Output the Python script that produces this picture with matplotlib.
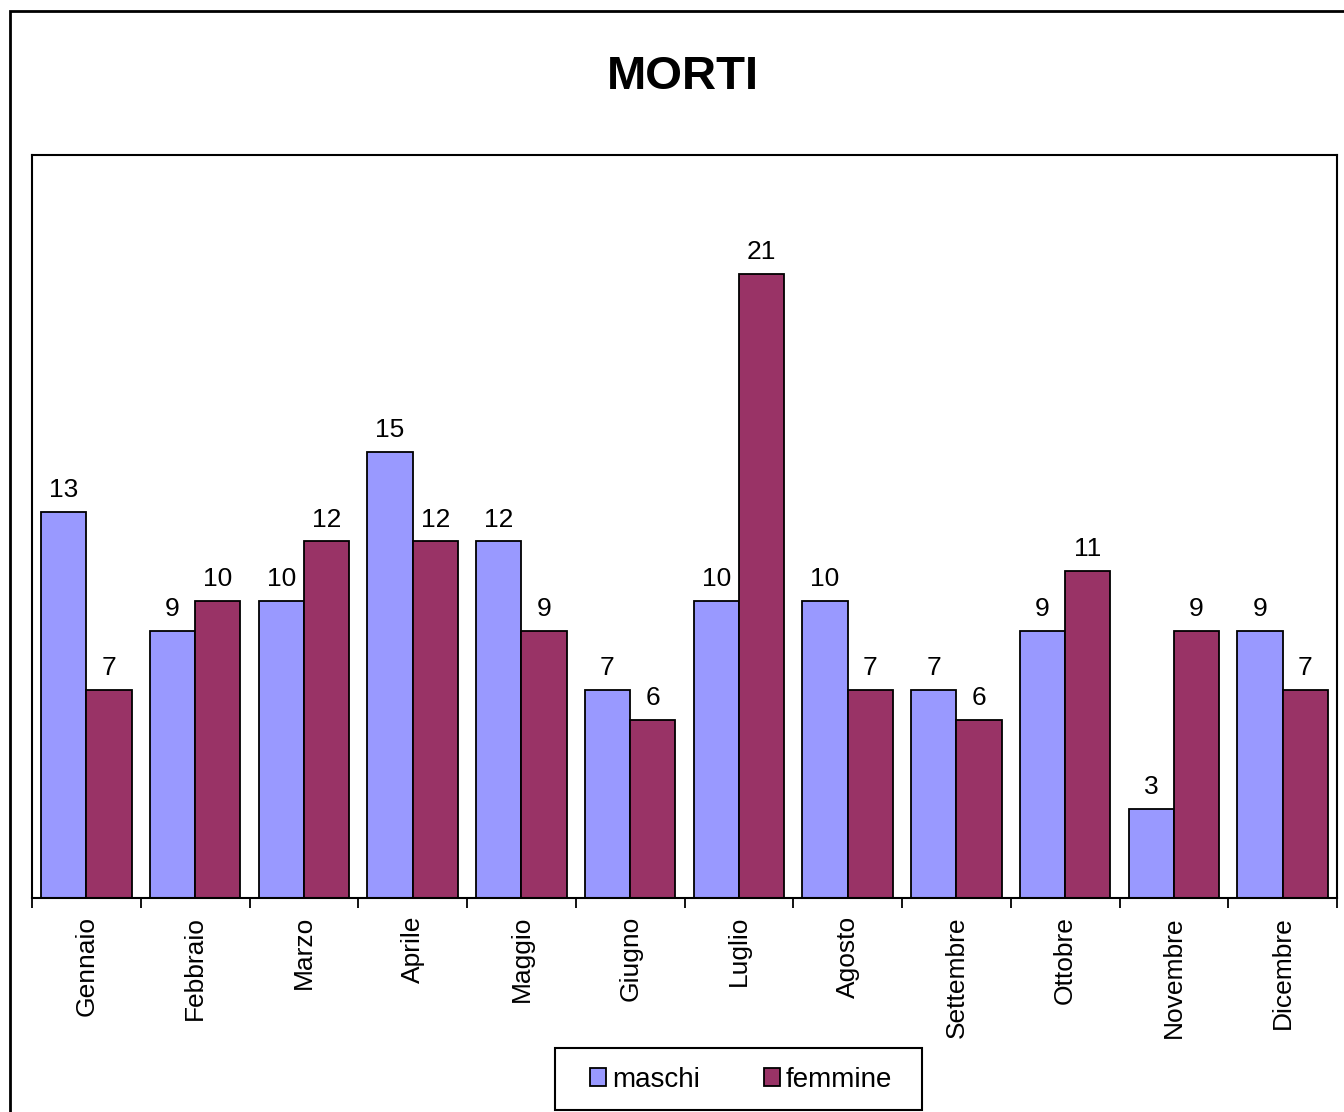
import numpy as np
import matplotlib
matplotlib.use("Agg")
import matplotlib.pyplot as plt
from matplotlib.patches import Rectangle

mesi = ["Gennaio", "Febbraio", "Marzo", "Aprile", "Maggio", "Giugno",
        "Luglio", "Agosto", "Settembre", "Ottobre", "Novembre", "Dicembre"]
maschi = [13, 9, 10, 15, 12, 7, 10, 10, 7, 9, 3, 9]
femmine = [7, 10, 12, 12, 9, 6, 21, 7, 6, 11, 9, 7]

plt.rcParams['font.family'] = ['Liberation Sans', 'DejaVu Sans']

fig = plt.figure(figsize=(13.44, 11.12), dpi=100)
ax = fig.add_axes([32 / 1344, 214 / 1112, 1305 / 1344, 743 / 1112])

x = np.arange(len(mesi))
w = 0.417
b1 = ax.bar(x - w / 2, maschi, w, color="#9999FF", edgecolor="black", linewidth=1.3, label="maschi")
b2 = ax.bar(x + w / 2, femmine, w, color="#993366", edgecolor="black", linewidth=1.3, label="femmine")
ax.bar_label(b1, padding=7, fontsize=19)
ax.bar_label(b2, padding=7, fontsize=19)

ax.set_xlim(-0.5, 11.5)
ax.set_ylim(0, 25)
ax.set_yticks([])
ax.set_xticks(np.arange(-0.5, 12, 1))
ax.set_xticklabels([])
ax.set_xticks(x, minor=True)
ax.set_xticklabels(mesi, minor=True, rotation=90, fontsize=19)
ax.tick_params(axis="x", which="major", length=7, width=1.3, direction="out")
ax.tick_params(axis="x", which="minor", length=0, pad=13)
for s in ax.spines.values():
    s.set_linewidth(1.5)

fig.text(683 / 1344, 1 - 77 / 1112, "MORTI", ha="center", va="center",
         fontsize=34, fontweight="bold")

# legenda senza cornice, cornice disegnata a parte (più larga)
leg = fig.legend(loc="center", bbox_to_anchor=(741 / 1344, 1 - 1080 / 1112),
                 ncol=2, fontsize=20, frameon=False,
                 handlelength=0.6, handleheight=0.6,
                 handletextpad=0.2, columnspacing=2.3, borderpad=0.6)
fig.patches.append(Rectangle((555 / 1344, 1 - 1110 / 1112), 367 / 1344, 62 / 1112,
                             transform=fig.transFigure, fill=False,
                             edgecolor="black", linewidth=1.5))

fig.patches.append(Rectangle((10 / 1344, -0.1), 1.2, 1 - 11 / 1112 + 0.1,
                             transform=fig.transFigure, fill=False,
                             edgecolor="black", linewidth=2))

fig.savefig("out.png", dpi=100)
